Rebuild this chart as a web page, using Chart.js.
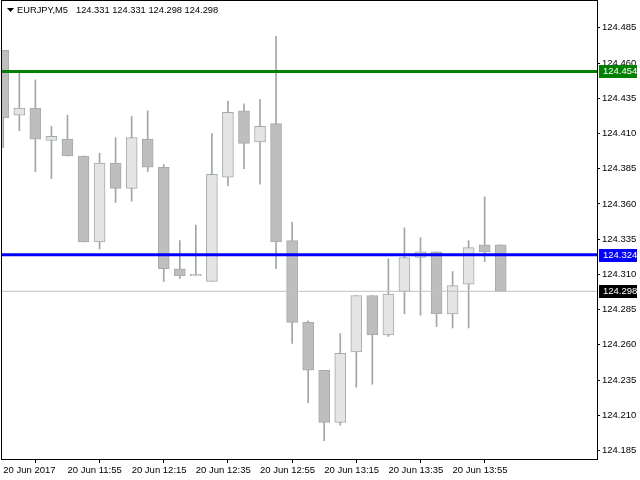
<!DOCTYPE html>
<html>
<head>
<meta charset="utf-8">
<title>EURJPY,M5</title>
<script src="https://cdn.jsdelivr.net/npm/chart.js@4.4.1/dist/chart.umd.min.js"></script>
<style>
    html, body { margin: 0; padding: 0; background: #fff; }
    canvas { display: block; }
</style>
</head>
<body>
<canvas id="myChart" width="640" height="480"></canvas>
<script>
// bar data, 5 minute candles from 20 Jun 2017 11:35
let opens  = [124.469, 124.423, 124.428, 124.405, 124.406, 124.394, 124.333, 124.389, 124.371, 124.406,
              124.386, 124.314, 124.309, 124.305, 124.379, 124.426, 124.404, 124.417, 124.334, 124.276,
              124.242, 124.205, 124.255, 124.295, 124.267, 124.298, 124.322, 124.326, 124.282, 124.303,
              124.331, 124.331];
let highs  = [124.469, 124.455, 124.448, 124.415, 124.423, 124.394, 124.396, 124.407, 124.422, 124.426,
              124.388, 124.334, 124.345, 124.410, 124.433, 124.431, 124.434, 124.479, 124.347, 124.277,
              124.242, 124.268, 124.295, 124.295, 124.321, 124.343, 124.336, 124.326, 124.312, 124.334,
              124.365, 124.331];
let lows   = [124.400, 124.412, 124.383, 124.378, 124.394, 124.333, 124.328, 124.361, 124.362, 124.383,
              124.305, 124.307, 124.309, 124.305, 124.373, 124.385, 124.374, 124.314, 124.261, 124.219,
              124.192, 124.203, 124.230, 124.232, 124.266, 124.282, 124.281, 124.273, 124.272, 124.272,
              124.319, 124.298];
let closes = [124.421, 124.428, 124.406, 124.408, 124.394, 124.333, 124.389, 124.371, 124.407, 124.386,
              124.314, 124.309, 124.310, 124.381, 124.425, 124.403, 124.415, 124.333, 124.276, 124.242,
              124.205, 124.254, 124.295, 124.267, 124.296, 124.322, 124.326, 124.282, 124.302, 124.329,
              124.326, 124.298];

let xTickIdx = [0, 4, 8, 12, 16, 20, 24, 28];
let xTickLabels = ['20 Jun 2017', '20 Jun 11:55', '20 Jun 12:15', '20 Jun 12:35',
                   '20 Jun 12:55', '20 Jun 13:15', '20 Jun 13:35', '20 Jun 13:55'];
let yTicks = [124.185, 124.210, 124.235, 124.260, 124.285, 124.310, 124.335,
              124.360, 124.385, 124.410, 124.435, 124.460, 124.485];

let greenLevel = 124.454;
let blueLevel = 124.324;
let symbolName = 'EURJPY,M5';

let X_MIN = -0.08, X_MAX = 37;
let Y_MIN = 124.179, Y_MAX = 124.504;
let FONT = {family: 'Liberation Sans, Arial, sans-serif', size: 9.5};

chartPage = (function () {

    function lastPrice() {
        return closes[closes.length - 1];
    }

    function levelLine(value, color, width) {
        return {
            type: 'line',
            data: [{x: X_MIN, y: value}, {x: X_MAX, y: value}],
            borderColor: color,
            borderWidth: width,
            pointRadius: 0,
            order: 0
        };
    }

    let frameAndLabels = {
        id: 'frameAndLabels',
        afterDraw: function (chart) {
            let ctx = chart.ctx;
            let area = chart.chartArea;
            let y = chart.scales.y;

            ctx.save();
            ctx.strokeStyle = '#000';
            ctx.lineWidth = 1;
            ctx.strokeRect(area.left - 0.5, area.top - 0.5, area.right - area.left + 1, area.bottom - area.top + 1);

            // price boxes on the right axis
            let boxes = [
                {value: greenLevel, bg: '#008000'},
                {value: blueLevel, bg: '#0000ff'},
                {value: lastPrice(), bg: '#000000'}
            ];
            ctx.font = FONT.size + 'px ' + FONT.family;
            ctx.textBaseline = 'middle';
            ctx.textAlign = 'left';
            boxes.forEach(function (b) {
                let py = Math.round(y.getPixelForValue(b.value));
                ctx.fillStyle = b.bg;
                ctx.fillRect(area.right + 2, py - 6, 38, 13);
                ctx.fillStyle = '#fff';
                ctx.fillText(b.value.toFixed(3), area.right + 6, py + 0.5);
            });

            // header line
            let n = closes.length - 1;
            ctx.fillStyle = '#000';
            ctx.font = '9.3px ' + FONT.family;
            ctx.beginPath();
            ctx.moveTo(7, 8);
            ctx.lineTo(14, 8);
            ctx.lineTo(10.5, 12);
            ctx.closePath();
            ctx.fill();
            ctx.fillText(symbolName, 17, 10.5);
            let head = [opens[n], highs[n], lows[n], closes[n]].map(function (v) { return v.toFixed(3); }).join(' ');
            ctx.fillText(head, 76, 10.5);
            ctx.restore();
        }
    };

    function drawChart() {
        let bodies = [], wicks = [], bodyColors = [];
        for (let i = 0; i < opens.length; i++) {
            bodies.push({x: i, y: [opens[i], closes[i]]});
            wicks.push({x: i, y: [lows[i], highs[i]]});
            bodyColors.push(closes[i] >= opens[i] ? '#e4e4e4' : '#bebebe');
        }

        let ctx = document.getElementById('myChart');
        let myChart = new Chart(ctx, {
            type: 'bar',
            data: {
                datasets: [
                    levelLine(greenLevel, '#008000', 3),
                    levelLine(blueLevel, '#0000ff', 3),
                    levelLine(lastPrice(), '#c0c0c0', 1),
                    {
                        label: 'body',
                        data: bodies,
                        backgroundColor: bodyColors,
                        borderColor: '#a2aca2',
                        borderWidth: 1,
                        borderSkipped: false,
                        barThickness: 11,
                        grouped: false,
                        order: 1
                    },
                    {
                        label: 'wick',
                        data: wicks,
                        backgroundColor: '#9ea89e',
                        borderWidth: 0,
                        barThickness: 1,
                        grouped: false,
                        order: 2
                    }
                ]
            },
            options: {
                responsive: false,
                animation: false,
                devicePixelRatio: 1,
                layout: {padding: {left: 2, top: 1, right: 0, bottom: 0}},
                plugins: {
                    legend: {display: false},
                    tooltip: {enabled: false},
                    title: {display: false}
                },
                scales: {
                    x: {
                        type: 'linear',
                        position: 'bottom',
                        min: X_MIN,
                        max: X_MAX,
                        offset: false,
                        grid: {drawOnChartArea: false, drawTicks: true, tickLength: 4, color: '#000'},
                        border: {display: true, color: '#000'},
                        afterBuildTicks: function (scale) {
                            scale.ticks = xTickIdx.map(function (v) { return {value: v}; });
                        },
                        afterFit: function (scale) {
                            scale.height = 21;
                            scale.paddingLeft = 0;
                            scale.paddingRight = 0;
                        },
                        ticks: {
                            autoSkip: false,
                            maxRotation: 0,
                            align: 'start',
                            padding: 2,
                            color: '#000',
                            font: FONT,
                            callback: function (value) {
                                let i = xTickIdx.indexOf(value);
                                return i < 0 ? '' : xTickLabels[i];
                            }
                        }
                    },
                    y: {
                        type: 'linear',
                        position: 'right',
                        min: Y_MIN,
                        max: Y_MAX,
                        grid: {drawOnChartArea: false, drawTicks: true, tickLength: 3, color: '#000'},
                        border: {display: true, color: '#000'},
                        afterBuildTicks: function (scale) {
                            scale.ticks = yTicks.map(function (v) { return {value: v}; });
                        },
                        afterFit: function (scale) {
                            scale.width = 43;
                            scale.paddingTop = 0;
                            scale.paddingBottom = 0;
                        },
                        ticks: {
                            padding: 2,
                            color: '#000',
                            font: FONT,
                            callback: function (value) {
                                return Number(value).toFixed(3);
                            }
                        }
                    }
                }
            },
            plugins: [frameAndLabels]
        });
        return myChart;
    }

    return {
        drawChart: drawChart
    }
})();

chartPage.drawChart();
</script>
</body>
</html>
